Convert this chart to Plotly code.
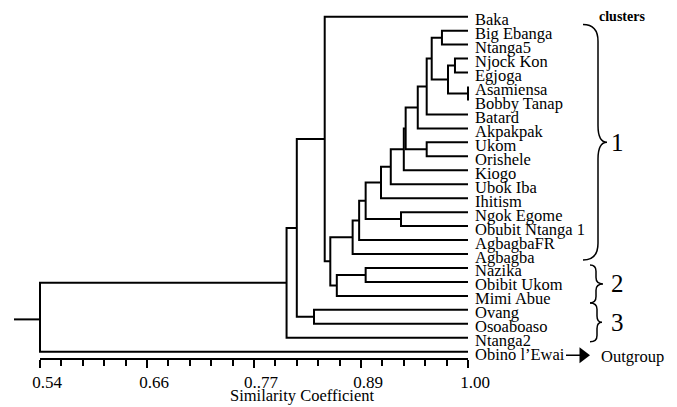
import plotly.graph_objects as go

# ---------------- data ----------------
leaves = ["Baka", "Big Ebanga", "Ntanga5", "Njock Kon", "Egjoga", "Asamiensa",
          "Bobby Tanap", "Batard", "Akpakpak", "Ukom", "Orishele", "Kiogo",
          "Ubok Iba", "Ihitism", "Ngok Egome", "Obubit Ntanga 1", "AgbagbaFR",
          "Agbagba", "Nazika", "Obibit Ukom", "Mimi Abue", "Ovang", "Osoaboaso",
          "Ntanga2", "Obino l’Ewai"]

# merges: node "m<i>" joins merge_a[i] and merge_b[i] at similarity merge_sim[i]
merge_a = ["Big Ebanga", "Njock Kon", "Asamiensa", "m1", "m0", "m4", "m5",
           "Ukom", "m6", "m8", "m9", "m10", "Ngok Egome", "m11", "m13", "m14",
           "Nazika", "m16", "m15", "Baka", "Ovang", "m19", "m21", "m22"]
merge_b = ["Ntanga5", "Egjoga", "Bobby Tanap", "m2", "m3", "Batard", "Akpakpak",
           "Orishele", "m7", "Kiogo", "Ubok Iba", "Ihitism", "Obubit Ntanga 1",
           "m12", "AgbagbaFR", "Agbagba", "Obibit Ukom", "Mimi Abue", "m17",
           "m18", "Osoaboaso", "m20", "Ntanga2", "Obino l’Ewai"]
merge_sim = [0.972, 0.986, 1.000, 0.9785, 0.961, 0.9556, 0.946,
             0.9556, 0.933, 0.931, 0.917, 0.9065, 0.928,
             0.890, 0.883, 0.876, 0.890, 0.859, 0.852,
             0.846, 0.8345, 0.816, 0.805, 0.54]

tick_vals = [0.54, 0.655, 0.77, 0.885, 1.00]
tick_text = ["0.54", "0.66", "0..77", "0.89", "1.00"]
minor_step = 0.023

cluster_names = ["1", "2", "3"]
cluster_first = ["Big Ebanga", "Nazika", "Ovang"]
cluster_last = ["Agbagba", "Mimi Abue", "Ntanga2"]
outgroup_leaf = "Obino l’Ewai"

# ---------------- geometry helpers (pixel <-> data) ----------------
W, H = 677, 407
PLOT_BOTTOM = 359
K = 0.46 / 428.0            # similarity units per pixel
def px2x(px):
    return 0.54 + (px - 40) * K
Y0, DY = 16.7, 13.96        # pixel row of first leaf, leaf spacing
def py2y(py):
    return (py - Y0) / DY
def py2paper(py):
    return (PLOT_BOTTOM - py) / PLOT_BOTTOM

FONT = "Liberation Serif"

# ---------------- build tree lines ----------------
pos = {name: (1.0, i) for i, name in enumerate(leaves)}
xs, ys = [], []
for i, (a, b, s) in enumerate(zip(merge_a, merge_b, merge_sim)):
    xa, ya = pos[a]
    xb, yb = pos[b]
    xs += [xa, s, s, xb, None]
    ys += [ya, ya, yb, yb, None]
    pos["m%d" % i] = (s, (ya + yb) / 2)
root_x, root_y = pos["m%d" % (len(merge_sim) - 1)]
xs += [root_x, px2x(14), None]
ys += [root_y + 0.15, root_y + 0.15, None]

fig = go.Figure()
fig.add_trace(go.Scatter(x=xs, y=ys, mode="lines",
                         line=dict(color="black", width=2),
                         hoverinfo="skip", showlegend=False))

# outgroup arrow
oy = leaves.index(outgroup_leaf) + 0.25
fig.add_trace(go.Scatter(x=[px2x(566), px2x(580)], y=[oy, oy], mode="lines",
                         line=dict(color="black", width=1.5),
                         hoverinfo="skip", showlegend=False, cliponaxis=False))
fig.add_trace(go.Scatter(x=[px2x(583)], y=[oy], mode="markers",
                         marker=dict(symbol="triangle-right", size=14, color="black"),
                         hoverinfo="skip", showlegend=False, cliponaxis=False))

annotations = []
for i, name in enumerate(leaves):
    annotations.append(dict(x=1.0, y=i, xref="x", yref="y", text=name,
                            showarrow=False, xanchor="left", yanchor="middle",
                            xshift=5, yshift=-3,
                            font=dict(family=FONT, size=16.5, color="black")))
annotations.append(dict(x=px2x(599), y=oy, xref="x", yref="y", text="Outgroup",
                        showarrow=False, xanchor="left", yanchor="middle", yshift=-1,
                        font=dict(family=FONT, size=16.5, color="black")))
annotations.append(dict(x=px2x(597), y=py2y(16), xref="x", yref="y",
                        text="<b>clusters</b>", showarrow=False,
                        xanchor="left", yanchor="middle",
                        font=dict(family=FONT, size=14, color="black")))
annotations.append(dict(x=px2x(228), y=py2paper(395), xref="x", yref="paper",
                        text="Similarity Coefficient", showarrow=False,
                        xanchor="left", yanchor="middle",
                        font=dict(family=FONT, size=16.5, color="black")))

# ---------------- cluster braces ----------------
def brace(y0, y1, xl, xsp, xt, r):
    ym = (y0 + y1) / 2
    X = px2x
    return (f"M {X(xl)},{y0} Q {X(xsp)},{y0} {X(xsp)},{y0 + r} "
            f"L {X(xsp)},{ym - r} Q {X(xsp)},{ym} {X(xt)},{ym} "
            f"Q {X(xsp)},{ym} {X(xsp)},{ym + r} "
            f"L {X(xsp)},{y1 - r} Q {X(xsp)},{y1} {X(xl)},{y1}")

brace_style = [  # (top inset, bottom inset, left px, spine px, tip px, radius, label px, label size)
    (0.05, 0.07, 583, 598, 607, 1.2, 609, 25),
    (0.28, 0.0, 590, 596, 603, 0.45, 609, 25),
    (0.0, 0.22, 590, 597, 602, 0.45, 609, 25),
]
shapes = []
for name, f, l, st in zip(cluster_names, cluster_first, cluster_last, brace_style):
    ti, bi, xl, xsp, xt, r, lx, ls = st
    y0 = leaves.index(f) - 0.5 + ti
    y1 = leaves.index(l) + 0.5 - bi
    shapes.append(dict(type="path", xref="x", yref="y",
                       path=brace(y0, y1, xl, xsp, xt, r),
                       line=dict(color="black", width=1.5)))
    annotations.append(dict(x=px2x(lx), y=(y0 + y1) / 2, xref="x", yref="y",
                            text=name, showarrow=False, xanchor="left",
                            yanchor="middle",
                            font=dict(family=FONT, size=ls, color="black")))

# axis line (only from 0.54 to 1.00)
shapes.append(dict(type="line", xref="x", yref="paper", x0=0.54, x1=1.0,
                   y0=0, y1=0, line=dict(color="black", width=2)))

minor_vals = [round(0.54 + minor_step * k, 4) for k in range(21) if k % 5 != 0]

fig.update_layout(
    width=W, height=H,
    margin=dict(l=0, r=0, t=0, b=H - PLOT_BOTTOM),
    plot_bgcolor="white", paper_bgcolor="white",
    xaxis=dict(range=[px2x(0), px2x(W)], showgrid=False, zeroline=False,
               showline=False, tickmode="array", tickvals=tick_vals,
               ticktext=tick_text, ticks="outside", ticklen=8, tickwidth=1.5,
               tickcolor="black", ticklabelshift=7,
               tickfont=dict(family=FONT, size=17, color="black"),
               minor=dict(tickmode="array", tickvals=minor_vals, ticks="outside",
                          ticklen=6, tickwidth=1.5, tickcolor="black",
                          showgrid=False),
               fixedrange=True),
    yaxis=dict(range=[py2y(PLOT_BOTTOM), py2y(0)], visible=False, fixedrange=True),
    shapes=shapes,
    annotations=annotations,
    showlegend=False,
)

fig.write_html("out.html")
